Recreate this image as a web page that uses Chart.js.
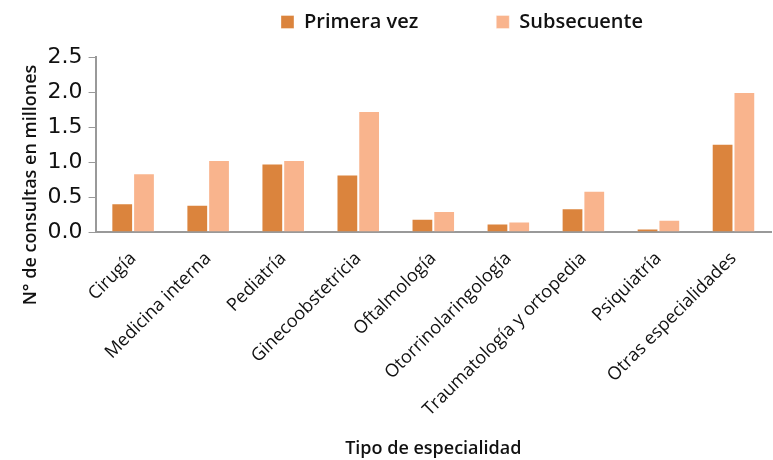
<!DOCTYPE html>
<html>
<head>
<meta charset="utf-8">
<script src="https://cdn.jsdelivr.net/npm/chart.js@4"></script>
<style>
html,body{margin:0;padding:0;background:#fff}
#wrap{width:773px;height:460px}
</style>
</head>
<body>
<div id="wrap"><canvas id="chart"></canvas></div>
<script>
// consultas por especialidad (millones)
const especialidades=["Cirugía","Medicina interna","Pediatría","Ginecoobstetricia","Oftalmología","Otorrinolaringología","Traumatología y ortopedia","Psiquiatría","Otras especialidades"]
const primeraVez=[0.41,0.39,0.98,0.82,0.19,0.12,0.34,0.05,1.26]
const subsecuente=[0.84,1.03,1.03,1.73,0.30,0.15,0.59,0.175,2.0]
const yTicks=[0,0.5,1.0,1.5,2.0,2.5]

const labelFont="'Open Sans', 'Noto Sans', sans-serif"

// em/en spaces used to spread the legend entries apart
const legendGap=["\u2003\u2003\u2003\u2002","\u2003\u2003\u2003\u2003\u2003\u2003"]

// extra room under the legend
const legendMargin={
id:"legendMargin",
beforeInit(chart){
const fit=chart.legend.fit
chart.legend.fit=function(){
fit.bind(chart.legend)()
this.height+=15
}
}
}

const ctx=document.getElementById("chart").getContext("2d")

new Chart(ctx,{
type:"bar",
data:{
labels:especialidades,
datasets:[{
label:"Primera vez",
data:primeraVez,
backgroundColor:"#DB843D",
borderColor:"rgba(255,255,255,0.35)",
borderWidth:1
},{
label:"Subsecuente",
data:subsecuente,
backgroundColor:"#F9B48D",
borderColor:"rgba(255,255,255,0.35)",
borderWidth:1
}]
},
options:{
responsive:true,
maintainAspectRatio:false,
animation:false,
layout:{padding:{left:16,right:2,top:4,bottom:0}},
datasets:{bar:{barPercentage:1,categoryPercentage:0.58}},
plugins:{
legend:{
position:"top",
align:"end",
labels:{
boxWidth:13,
boxHeight:13,
padding:8,
color:"#111",
font:{family:labelFont,size:20,weight:"600"},
generateLabels:(chart)=>{
const items=Chart.defaults.plugins.legend.labels.generateLabels(chart)
items.forEach((it,i)=>{it.text=it.text+legendGap[i]})
return items
}
}
},
tooltip:{enabled:false}
},
scales:{
x:{
grid:{display:false,drawTicks:false},
border:{color:"#999",width:2},
ticks:{
color:"#111",
font:{family:labelFont,size:18},
maxRotation:45,
minRotation:45,
padding:16
},
title:{
display:true,
text:"Tipo de especialidad",
color:"#111",
font:{family:labelFont,size:18,weight:"600"},
padding:{top:18,bottom:0}
}
},
y:{
min:0,
max:2.5,
afterBuildTicks:(axis)=>{axis.ticks=yTicks.map(v=>({value:v}))},
grid:{display:true,drawOnChartArea:false,tickLength:7,color:"#999"},
border:{color:"#999",width:2},
ticks:{
color:"#111",
font:{family:"'DejaVu Sans', sans-serif",size:22},
padding:6,
callback:(v)=>Number(v).toFixed(1)
},
title:{
display:true,
text:"N° de consultas en millones\u2003\u2003\u2003\u2003\u2002",
color:"#111",
font:{family:labelFont,size:18,weight:"600"},
padding:{bottom:0}
}
}
}
},
plugins:[legendMargin]
})
</script>
</body>
</html>
